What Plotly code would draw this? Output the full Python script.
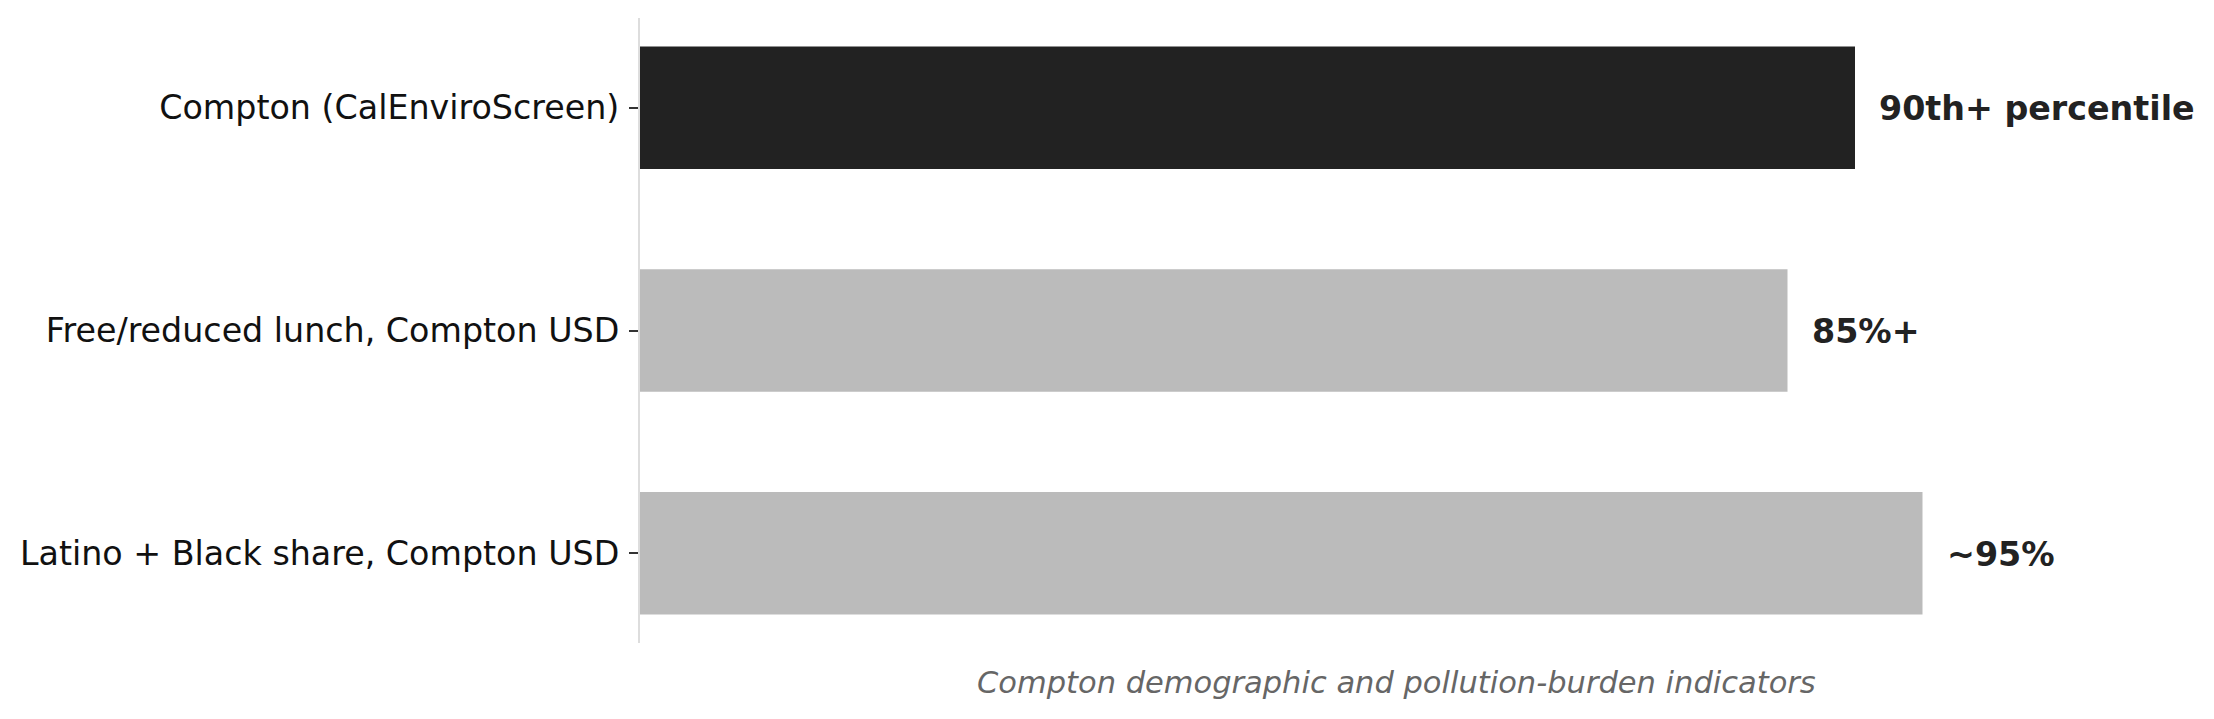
import plotly.graph_objects as go

# data
categories = ["Compton (CalEnviroScreen)",
              "Free/reduced lunch, Compton USD",
              "Latino + Black share, Compton USD"]
values = [90, 85, 95]
value_labels = ["90th+ percentile", "85%+", "~95%"]
bar_colors = ["#222222", "#bbbbbb", "#bbbbbb"]

caption = "Compton demographic and pollution-burden indicators"

font_family = "DejaVu Sans"

fig = go.Figure()
fig.add_trace(go.Bar(x=values, y=categories, orientation="h",
                     marker=dict(color=bar_colors, line_width=0),
                     hoverinfo="skip", showlegend=False))

# value labels to the right of each bar
for cat, val, lab in zip(categories, values, value_labels):
    fig.add_annotation(x=val, y=cat, text="<b>" + lab + "</b>",
                       xanchor="left", yanchor="middle", xshift=22, yshift=-1,
                       showarrow=False,
                       font=dict(family=font_family, size=33.3, color="#222222"))

# caption under the plot (acts as the x label)
fig.add_annotation(x=0.5, y=0, xref="paper", yref="paper", text="<i>" + caption + "</i>",
                   xanchor="center", yanchor="middle", yshift=-39, showarrow=False,
                   font=dict(family=font_family, size=30.5, color="#666666"))

# page body has an 8px margin, so the plot area is pulled up/left by that much
fig.update_layout(width=2214, height=719,
                  margin=dict(l=632, r=70, t=10, b=84),
                  paper_bgcolor="white", plot_bgcolor="white",
                  bargap=0.45,
                  font=dict(family=font_family, size=33.3, color="#111111"))

fig.update_xaxes(range=[0, 112], showgrid=False, zeroline=False,
                 showticklabels=False, showline=False, ticks="")
fig.update_yaxes(range=[2.4025, -0.4025], showgrid=False, zeroline=False,
                 showline=True, linecolor="#dddddd", linewidth=2,
                 ticks="outside", ticklen=9, tickwidth=1.5, tickcolor="#333333",
                 ticklabelstandoff=3,
                 tickfont=dict(family=font_family, size=33.3, color="#111111"))

fig.write_html("out.html")
